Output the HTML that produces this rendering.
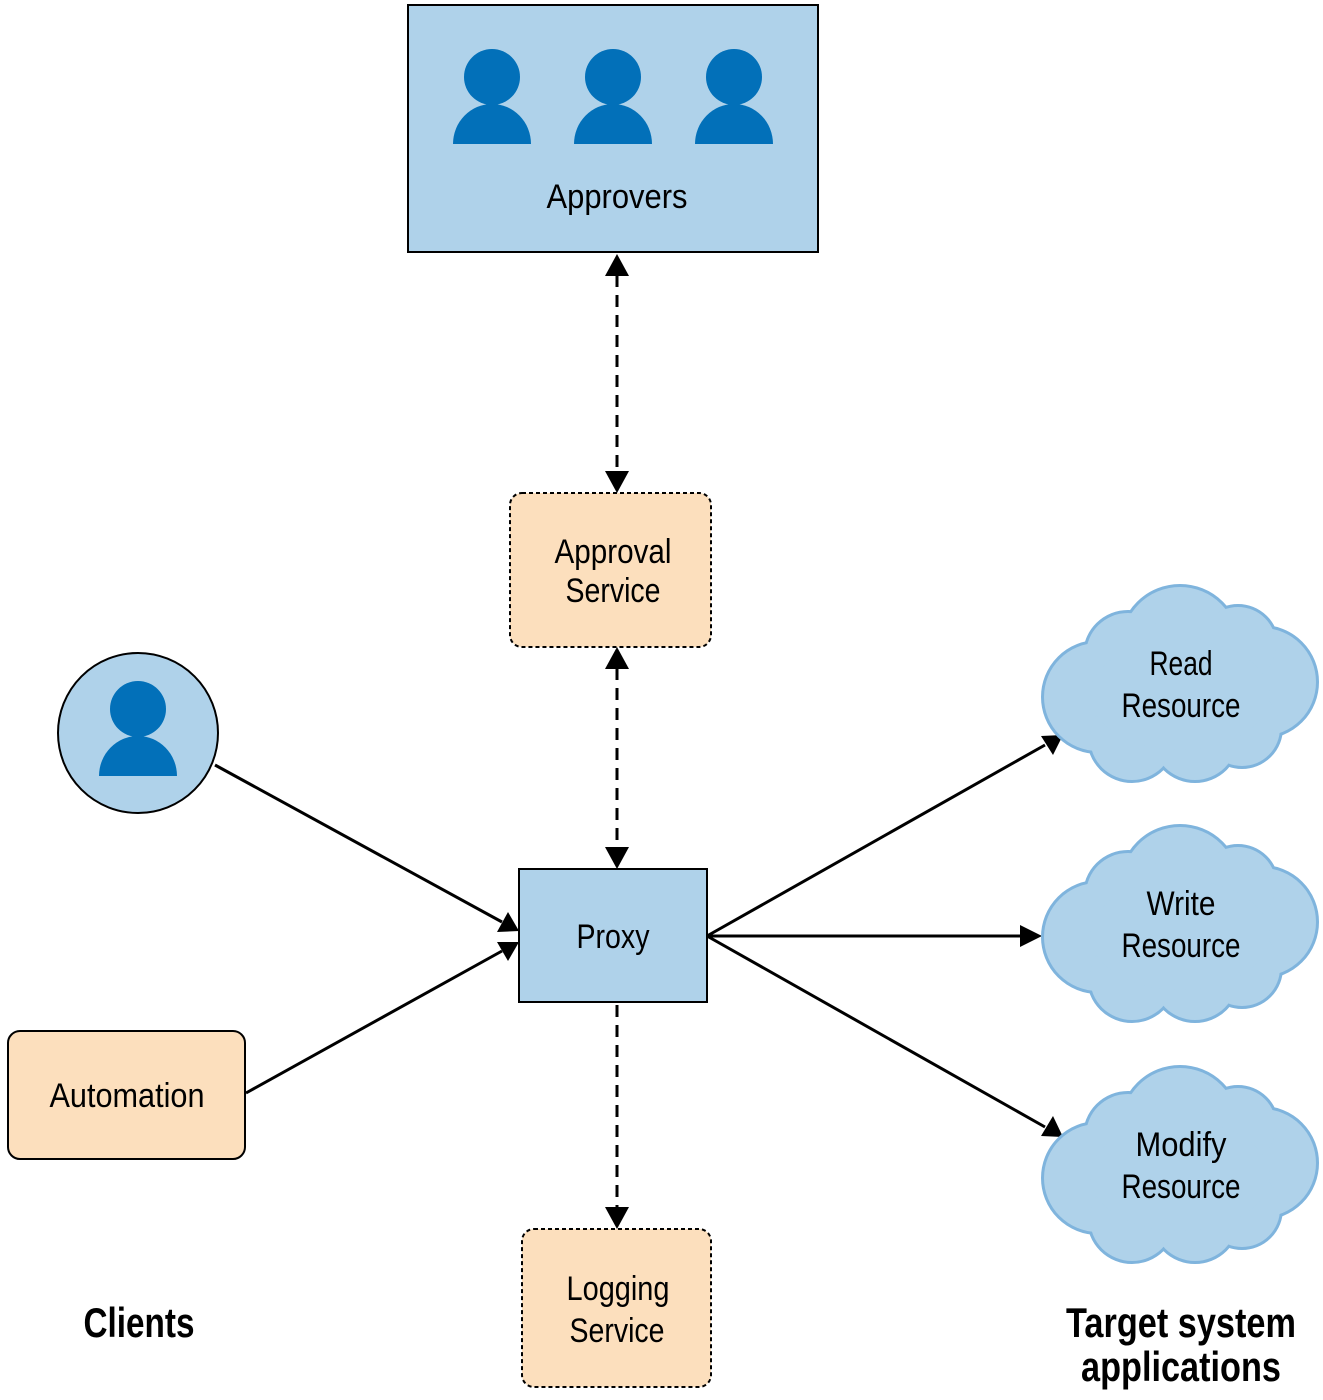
<!DOCTYPE html>
<html><head><meta charset="utf-8"><style>
html,body{margin:0;padding:0;background:#fff;}
svg{display:block;}
text{font-family:"Liberation Sans Narrow","Liberation Sans",sans-serif;fill:#000;}
</style></head><body>
<svg width="1323" height="1400" viewBox="0 0 1323 1400" xmlns="http://www.w3.org/2000/svg">
<defs>
<marker id="ah" markerWidth="10" markerHeight="10" refX="9" refY="5" orient="auto" markerUnits="userSpaceOnUse" viewBox="0 0 10 10">
</marker>
<g id="cloudS">
<circle cx="1180" cy="645" r="58"/><circle cx="1098" cy="697" r="54"/><circle cx="1262" cy="682" r="54"/>
<circle cx="1132" cy="738" r="42"/><circle cx="1195" cy="738" r="42"/><circle cx="1242" cy="728" r="38"/>
<circle cx="1128" cy="655" r="42"/><circle cx="1238" cy="645" r="38"/><ellipse cx="1180" cy="695" rx="90" ry="55"/>
</g>
<g id="person"><circle cx="0" cy="0" r="28"/><path d="M-39,67 A39,40 0 0 1 39,67 Z"/></g>
</defs>

<!-- Approvers -->
<rect x="408" y="5" width="410" height="247" fill="#afd2ea" stroke="#000" stroke-width="2"/>
<g fill="#0270b9">
<use href="#person" x="492" y="77"/><use href="#person" x="613" y="77"/><use href="#person" x="734" y="77"/>
</g>
<text x="617" y="208" font-size="34" text-anchor="middle" textLength="141" lengthAdjust="spacingAndGlyphs">Approvers</text>

<!-- dashed connectors -->
<g stroke="#000" stroke-width="3" stroke-dasharray="12,8" fill="none">
<line x1="617" y1="275" x2="617" y2="472"/>
<line x1="617" y1="668" x2="617" y2="848"/>
<line x1="617" y1="1005" x2="617" y2="1208"/>
</g>
<g fill="#000">
<polygon points="605,276 629,276 617,254"/>
<polygon points="605,471 629,471 617,493"/>
<polygon points="605,669 629,669 617,647"/>
<polygon points="605,847 629,847 617,869"/>
<polygon points="605,1207 629,1207 617,1229"/>
</g>

<!-- Approval Service -->
<rect x="510" y="493" width="201" height="154" rx="12" fill="#fcdfbd" stroke="#000" stroke-width="2" stroke-dasharray="4,3"/>
<text x="613" y="563" font-size="34" text-anchor="middle" textLength="117" lengthAdjust="spacingAndGlyphs">Approval</text>
<text x="613" y="602" font-size="34" text-anchor="middle" textLength="95" lengthAdjust="spacingAndGlyphs">Service</text>

<!-- Proxy -->
<rect x="519" y="869" width="188" height="133" fill="#afd2ea" stroke="#000" stroke-width="2"/>
<text x="613" y="948" font-size="34" text-anchor="middle" textLength="73" lengthAdjust="spacingAndGlyphs">Proxy</text>

<!-- Logging -->
<rect x="522" y="1229" width="189" height="158" rx="12" fill="#fcdfbd" stroke="#000" stroke-width="2" stroke-dasharray="4,3"/>
<text x="618" y="1300" font-size="34" text-anchor="middle" textLength="103" lengthAdjust="spacingAndGlyphs">Logging</text>
<text x="617" y="1342" font-size="34" text-anchor="middle" textLength="95" lengthAdjust="spacingAndGlyphs">Service</text>

<!-- Client person -->
<circle cx="138" cy="733" r="80" fill="#afd2ea" stroke="#000" stroke-width="2"/>
<g fill="#0270b9"><use href="#person" x="138" y="709"/></g>

<!-- Automation -->
<rect x="8" y="1031" width="237" height="128" rx="12" fill="#fcdfbd" stroke="#000" stroke-width="2"/>
<text x="127" y="1107" font-size="34" text-anchor="middle" textLength="155" lengthAdjust="spacingAndGlyphs">Automation</text>

<!-- solid arrows -->
<g stroke="#000" stroke-width="3">
<line x1="215" y1="765" x2="502" y2="922"/>
<line x1="246" y1="1093" x2="502" y2="951"/>
<line x1="707" y1="936" x2="1045" y2="745"/>
<line x1="707" y1="936" x2="1022" y2="936"/>
<line x1="707" y1="936" x2="1045" y2="1127"/>
</g>
<g fill="#000">
<polygon points="519,931 497,932 508,912"/>
<polygon points="519,942 508,961 497,942"/>
<polygon points="1063,735 1053,755 1041,736"/>
<polygon points="1042,936 1020,925 1020,947"/>
<polygon points="1063,1137 1041,1136 1053,1116"/>
</g>

<!-- Clouds -->
<g fill="#7fb4dd" stroke="#7fb4dd" stroke-width="6"><use href="#cloudS"/><use href="#cloudS" y="240"/><use href="#cloudS" y="481"/></g>
<g fill="#afd2ea"><use href="#cloudS"/><use href="#cloudS" y="240"/><use href="#cloudS" y="481"/></g>
<text x="1181" y="675" font-size="34" text-anchor="middle" textLength="63" lengthAdjust="spacingAndGlyphs">Read</text>
<text x="1181" y="717" font-size="34" text-anchor="middle" textLength="119" lengthAdjust="spacingAndGlyphs">Resource</text>
<text x="1181" y="915" font-size="34" text-anchor="middle" textLength="69" lengthAdjust="spacingAndGlyphs">Write</text>
<text x="1181" y="957" font-size="34" text-anchor="middle" textLength="119" lengthAdjust="spacingAndGlyphs">Resource</text>
<text x="1181" y="1156" font-size="34" text-anchor="middle" textLength="91" lengthAdjust="spacingAndGlyphs">Modify</text>
<text x="1181" y="1198" font-size="34" text-anchor="middle" textLength="119" lengthAdjust="spacingAndGlyphs">Resource</text>

<!-- labels -->
<text x="139" y="1337" font-size="42" font-weight="bold" text-anchor="middle" textLength="111" lengthAdjust="spacingAndGlyphs">Clients</text>
<text x="1181" y="1337" font-size="42" font-weight="bold" text-anchor="middle" textLength="230" lengthAdjust="spacingAndGlyphs">Target system</text>
<text x="1181" y="1381" font-size="42" font-weight="bold" text-anchor="middle" textLength="200" lengthAdjust="spacingAndGlyphs">applications</text>
</svg>
</body></html>
